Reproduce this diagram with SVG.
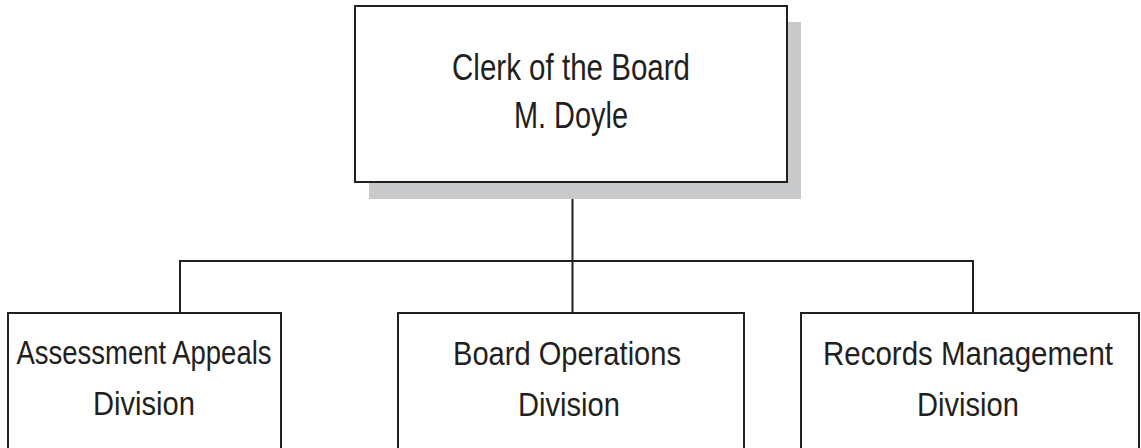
<svg xmlns="http://www.w3.org/2000/svg" width="1141" height="448" viewBox="0 0 1141 448">
  <style>
    .box { fill: #ffffff; stroke: #231f20; stroke-width: 2; }
    .shadow { fill: #c8c9cb; }
    .wire { fill: none; stroke: #231f20; stroke-width: 2; }
    .label { font-family: "Liberation Sans", Arial, sans-serif; fill: #231f20; text-anchor: middle; }
    .top { font-size: 37.5px; }
    .sub { font-size: 34px; }
  </style>
  <rect width="1141" height="448" fill="#ffffff"/>

  <!-- reporting lines -->
  <g id="connectors">
    <path class="wire" d="M572.5 182 V261 M180 313 V261 H973 V313 M572.5 261 V313"/>
  </g>

  <!-- head of office -->
  <g id="clerk">
    <rect class="shadow" x="369" y="22" width="432" height="177"/>
    <rect class="box" x="355" y="6" width="432" height="176"/>
    <text class="label top" x="571" y="80" textLength="238" lengthAdjust="spacingAndGlyphs">Clerk of the Board</text>
    <text class="label top" x="571" y="128" textLength="114" lengthAdjust="spacingAndGlyphs">M. Doyle</text>
  </g>

  <!-- divisions -->
  <g id="assessment-appeals">
    <rect class="box" x="8" y="313" width="273" height="140"/>
    <text class="label sub" x="144" y="364" textLength="255" lengthAdjust="spacingAndGlyphs">Assessment Appeals</text>
    <text class="label sub" x="144" y="415" textLength="102" lengthAdjust="spacingAndGlyphs">Division</text>
  </g>

  <g id="board-operations">
    <rect class="box" x="398" y="313" width="346" height="140"/>
    <text class="label sub" x="567" y="365" textLength="228" lengthAdjust="spacingAndGlyphs">Board Operations</text>
    <text class="label sub" x="569" y="416" textLength="102" lengthAdjust="spacingAndGlyphs">Division</text>
  </g>

  <g id="records-management">
    <rect class="box" x="801" y="313" width="338" height="140"/>
    <text class="label sub" x="968" y="365" textLength="290" lengthAdjust="spacingAndGlyphs">Records Management</text>
    <text class="label sub" x="968" y="416" textLength="102" lengthAdjust="spacingAndGlyphs">Division</text>
  </g>
</svg>
